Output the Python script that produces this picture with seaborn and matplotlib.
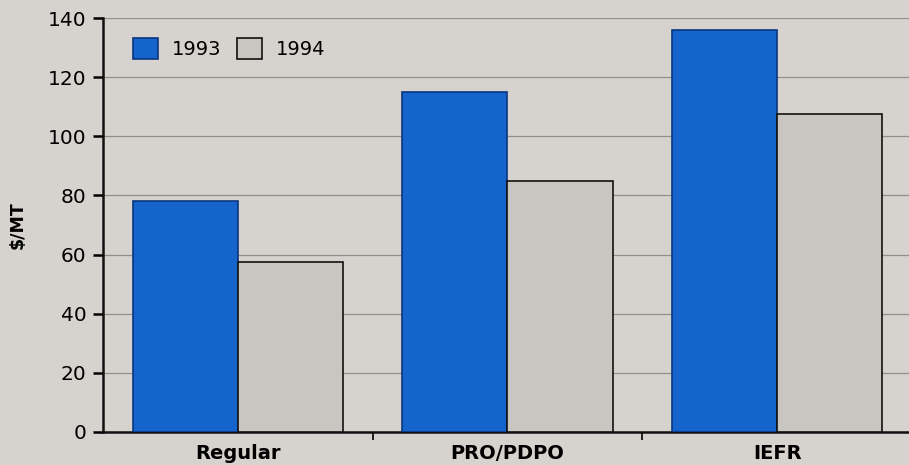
import pandas as pd
import matplotlib.pyplot as plt
import seaborn as sns
from matplotlib.ticker import FixedLocator

categories = ['Regular', 'PRO/PDPO', 'IEFR']
years = ['1993', '1994']
values_1993 = [78, 115, 136]
values_1994 = [57.5, 85, 107.5]

data = pd.DataFrame({
    'category': categories * 2,
    'year': [years[0]] * 3 + [years[1]] * 3,
    'value': values_1993 + values_1994,
})

sns.set_style('white', rc={'text.color': 'black', 'axes.labelcolor': 'black',
                           'xtick.color': 'black', 'ytick.color': 'black'})
plt.rcParams['font.family'] = ['DejaVu Sans']

paper = '#d6d2cd'
fig = plt.figure(figsize=(9.09, 4.65), dpi=100, facecolor=paper)
ax = fig.add_axes([0.1133, 0.071, 0.89, 0.89])
ax.set_facecolor(paper)

palette = {'1993': '#1464cc', '1994': '#c9c6c1'}
sns.barplot(data=data, x='category', y='value', hue='year', palette=palette,
            width=0.78, gap=0, saturation=1, ax=ax, zorder=3)

# darker outline for the blue bars, black for the grey ones
for bar in ax.patches:
    r, g, b, _ = bar.get_facecolor()
    bar.set_edgecolor('#0b3680' if b > 0.7 and r < 0.3 else '#111111')
    bar.set_linewidth(1.2)

ax.set_ylim(0, 140)
ax.set_xlim(-0.5, 2.5)
ax.set_yticks(range(0, 141, 20))
ax.yaxis.grid(True, color='#928f8a', linewidth=0.9, zorder=0)
ax.tick_params(axis='y', labelsize=14.5, length=7, width=1.8, direction='out', left=True, pad=5)
ax.tick_params(axis='x', length=0, labelsize=14, pad=9)
ax.xaxis.set_minor_locator(FixedLocator([0.5, 1.5]))
ax.tick_params(axis='x', which='minor', length=6, width=1.2, direction='out', bottom=True)
for lbl in ax.get_xticklabels():
    lbl.set_fontweight('heavy')

for side in ['top', 'right']:
    ax.spines[side].set_visible(False)
for side in ['left', 'bottom']:
    ax.spines[side].set_color('#111111')
    ax.spines[side].set_linewidth(1.8)

ax.set_xlabel('')
ax.set_ylabel('\\$/MT', fontsize=12.5, fontweight='bold')
ax.yaxis.set_label_coords(-0.095, 0.5)

handles, labels = ax.get_legend_handles_labels()
ax.legend(handles, labels, loc='upper left', bbox_to_anchor=(0.015, 0.995), ncol=2,
          frameon=False, fontsize=14, handlelength=1.3, handleheight=1.3,
          handletextpad=0.7, columnspacing=0.8)

plt.savefig('out.png', dpi=100, facecolor=paper)
